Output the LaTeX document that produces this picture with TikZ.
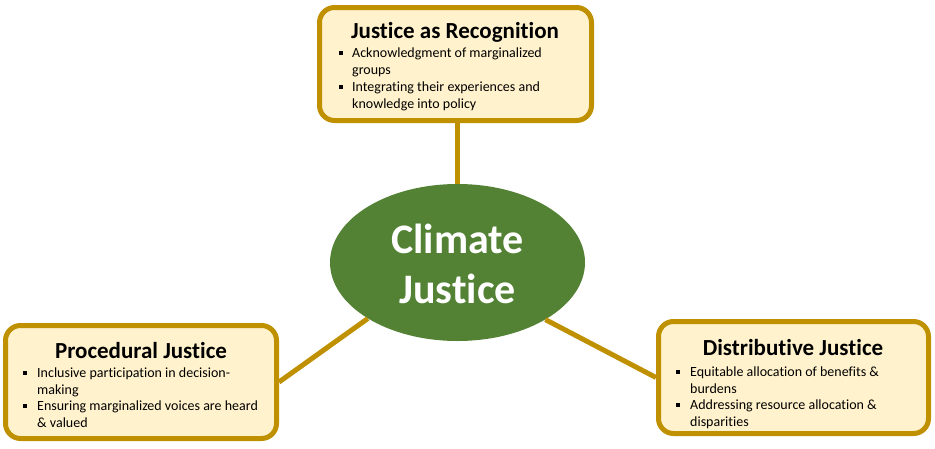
\documentclass[tikz,border=0pt]{standalone}
\usepackage{fontspec}
\setmainfont{Carlito}[Ligatures=NoCommon]
\usetikzlibrary{shapes.geometric}
\definecolor{gold}{RGB}{191,144,0}
\definecolor{cream}{RGB}{255,242,204}
\definecolor{leaf}{RGB}{84,130,53}
\tikzset{
  x=1pt,y=-1pt,
  jbox/.style={draw=gold,line width=5pt,fill=cream,rounded corners=15pt,inner sep=0pt},
  ttl/.style={font=\bfseries\fontsize{23}{27}\selectfont,inner sep=0pt,anchor=base},
  bl/.style={font=\fontsize{14}{17}\selectfont,inner sep=0pt,anchor=base west},
  sq/.style={fill=black,inner sep=0pt,minimum size=4pt},
  conn/.style={draw=gold,line width=5pt},
}
\begin{document}
\begin{tikzpicture}
\useasboundingbox (0,0) rectangle (935,448);
% boxes
\node[jbox,minimum width=272pt,minimum height=113pt] (rec) at (455.5,64) {};
\node[jbox,minimum width=271pt,minimum height=113pt] (pro) at (141,382) {};
\node[jbox,minimum width=270pt,minimum height=112pt] (dis) at (793.5,377.5) {};
% ellipse
\node[ellipse,fill=leaf,minimum width=255pt,minimum height=157pt,inner sep=0pt] (cj) at (457.5,262.5) {};
\node[font=\bfseries\fontsize{42}{50}\selectfont,text=white,anchor=base] (cj1) at (457.5,253) {Climate};
\node[font=\bfseries\fontsize{42}{50}\selectfont,text=white,anchor=base] (cj2) at (457.5,303) {Justice};
% connectors
\draw[conn] (rec.south -| cj.north) -- (cj.north);
\draw[conn] (pro.east) -- (cj.212);
\draw[conn] (cj.327) -- (dis.west);
% top box text
\node[ttl] (rect) at (455,38) {Justice as Recognition};
\node[sq] (rb1) at (341,53) {};
\node[bl] (r1) at (352,57.5) {Acknowledgment of marginalized};
\node[bl] (r2) at (352,74.5) {groups};
\node[sq] (rb2) at (341,87) {};
\node[bl] (r3) at (352,91.5) {Integrating their experiences and};
\node[bl] (r4) at (352,108.5) {knowledge into policy};
% left box text
\node[ttl] (prot) at (141,358) {Procedural Justice};
\node[sq] (pb1) at (25,373) {};
\node[bl] (p1) at (37,377.5) {Inclusive participation in decision-};
\node[bl] (p2) at (37,394.5) {making};
\node[sq] (pb2) at (25,406) {};
\node[bl] (p3) at (37,410.5) {Ensuring marginalized voices are heard};
\node[bl] (p4) at (37,427.5) {\& valued};
% right box text
\node[ttl] (dist) at (793,355) {Distributive Justice};
\node[sq] (db1) at (678,372) {};
\node[bl] (d1) at (690,376.5) {Equitable allocation of benefits \&};
\node[bl] (d2) at (690,393.5) {burdens};
\node[sq] (db2) at (678,405) {};
\node[bl] (d3) at (690,409.5) {Addressing resource allocation \&};
\node[bl] (d4) at (690,426.5) {disparities};
\end{tikzpicture}
\end{document}
